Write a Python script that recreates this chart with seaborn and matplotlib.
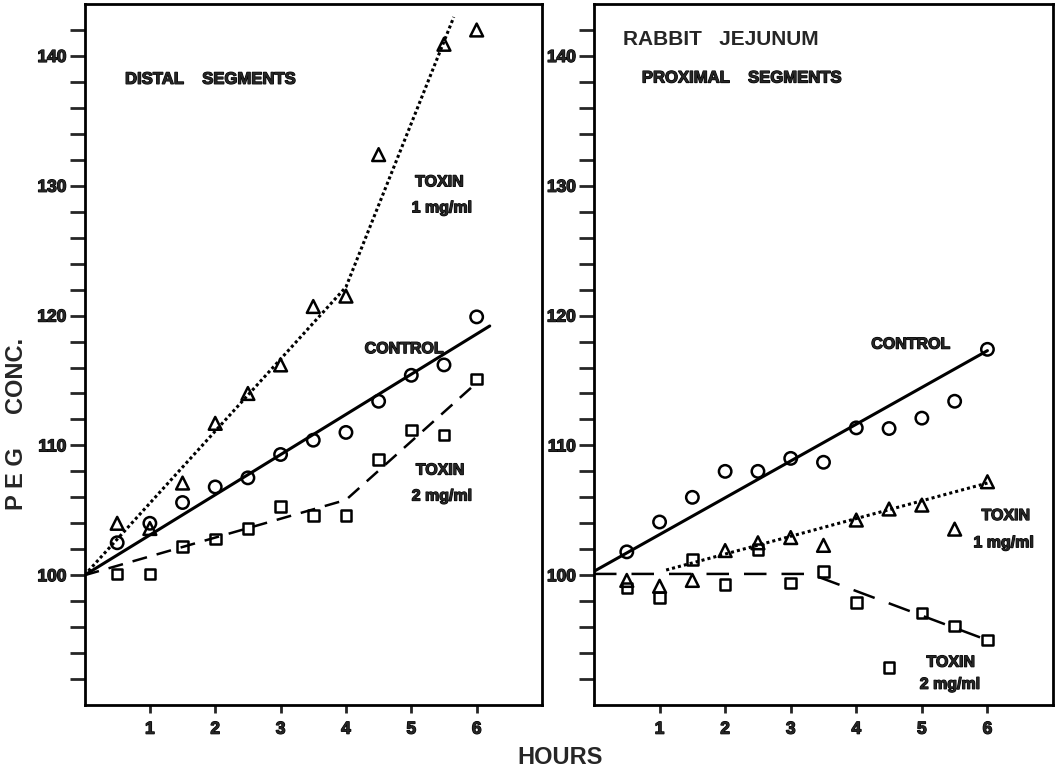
import numpy as np
import matplotlib
matplotlib.use('Agg')
import matplotlib.pyplot as plt
import matplotlib.patheffects as pe
import seaborn as sns

# Time points (hours)
hours = [0.5, 1, 1.5, 2, 2.5, 3, 3.5, 4, 4.5, 5, 5.5, 6]
hours_no5 = [0.5, 1, 1.5, 2, 2.5, 3, 3.5, 4, 4.5, 5.5, 6]

# Distal segments (PEG conc.)
distal_control = [102.5, 104.0, 105.6, 106.8, 107.5, 109.3, 110.4, 111.0, 113.4, 115.4, 116.2, 119.9]
distal_tox1 = [104.0, 103.6, 107.1, 111.7, 114.0, 116.2, 120.7, 121.5, 132.4, 140.9, 142.0]
distal_tox2 = [100.1, 100.1, 102.2, 102.8, 103.6, 105.3, 104.6, 104.6, 108.9, 111.2, 110.8, 115.1]

# Proximal segments (PEG conc.)
prox_control = [101.8, 104.1, 106.0, 108.0, 108.0, 109.0, 108.7, 111.35, 111.3, 112.1, 113.4, 117.4]
prox_tox1 = [99.6, 99.15, 99.6, 101.9, 102.5, 102.9, 102.3, 104.25, 105.1, 105.4, 103.55, 107.2]
prox_tox2 = [99.0, 98.3, 101.2, 99.3, 102.0, 99.4, 100.3, 97.9, 92.9, 97.1, 96.1, 95.0]

# Hand drawn fitted lines (knot points)
distal_control_fit_x = [0, 6.2]
distal_control_fit_y = [100, 119.2]
distal_tox1_fit_x = [0, 4, 5.65]
distal_tox1_fit_y = [100, 122.2, 143.0]
distal_tox2_fit_x = [0, 4, 5.95]
distal_tox2_fit_y = [100, 105.8, 114.6]

prox_control_fit_x = [0, 6]
prox_control_fit_y = [100.3, 117.3]
prox_tox1_fit_x = [1.1, 6]
prox_tox1_fit_y = [100.4, 107.1]
prox_tox2_fit_x = [0, 3.3, 6]
prox_tox2_fit_y = [100.1, 100.1, 95.0]

sns.set_style('ticks')
plt.rcParams['font.family'] = ['Liberation Sans', 'DejaVu Sans']

# heavier lettering, like the stencilled original
heavy = [pe.withStroke(linewidth=0.9, foreground='black')]

fig = plt.figure(figsize=(10.63, 7.74), dpi=100)
ax1 = fig.add_axes([0.0795, 0.0891, 0.4304, 0.9057])
ax2 = fig.add_axes([0.5588, 0.0891, 0.4318, 0.9057])


def style_axis(ax):
    ax.set_xlim(0, 7)
    ax.set_ylim(90, 144)
    ax.set_xticks([1, 2, 3, 4, 5, 6])
    ax.set_yticks([100, 110, 120, 130, 140])
    ax.set_yticks([y for y in np.arange(92, 144, 2) if y % 10 != 0], minor=True)
    ax.tick_params(axis='y', which='both', direction='out', length=11, width=2, pad=2,
                   labelsize=12.5)
    ax.tick_params(axis='x', direction='out', length=6, width=2, pad=6, labelsize=12.5)
    for lab in ax.get_xticklabels() + ax.get_yticklabels():
        lab.set_fontweight('bold')
        lab.set_path_effects(heavy)
    for sp in ax.spines.values():
        sp.set_linewidth(2)
        sp.set_color('black')
    ax.set_xlabel('')
    ax.set_ylabel('')


def points(ax, x, y, marker, size):
    sns.scatterplot(x=x, y=y, ax=ax, marker=marker, s=size, facecolor='none',
                    edgecolor='black', linewidth=1.8, zorder=3)


def fit(ax, x, y, ls, lw=2):
    sns.lineplot(x=x, y=y, ax=ax, color='black', linestyle=ls, linewidth=lw, sort=False)


# Left panel: distal segments
fit(ax1, distal_control_fit_x, distal_control_fit_y, '-', 2.2)
fit(ax1, distal_tox1_fit_x, distal_tox1_fit_y, (0, (1, 0.9)), 2.2)
fit(ax1, distal_tox2_fit_x, distal_tox2_fit_y, (0, (6, 4)), 1.8)
points(ax1, hours, distal_control, 'o', 80)
points(ax1, hours_no5, distal_tox1, '^', 85)
points(ax1, hours, distal_tox2, 's', 58)
style_axis(ax1)

bold = dict(fontsize=11.5, fontweight='bold', ha='center', va='center', path_effects=heavy)
ax1.text(0.62, 138.2, 'DISTAL    SEGMENTS', fontsize=12, fontweight='bold', ha='left',
         va='center', path_effects=heavy)
ax1.text(5.43, 130.3, 'TOXIN', **bold)
ax1.text(5.47, 128.3, '1 mg/ml', **bold)
ax1.text(4.89, 117.45, 'CONTROL', **bold)
ax1.text(5.44, 108.1, 'TOXIN', **bold)
ax1.text(5.47, 106.1, '2 mg/ml', **bold)

# Right panel: proximal segments
fit(ax2, prox_control_fit_x, prox_control_fit_y, '-', 2.2)
fit(ax2, prox_tox1_fit_x, prox_tox1_fit_y, (0, (1, 1.0)), 2.2)
fit(ax2, prox_tox2_fit_x, prox_tox2_fit_y, (0, (9, 6)), 1.8)
points(ax2, hours, prox_control, 'o', 80)
points(ax2, hours, prox_tox1, '^', 85)
points(ax2, hours, prox_tox2, 's', 58)
style_axis(ax2)

ax2.text(0.44, 141.3, 'RABBIT   JEJUNUM', fontsize=15, fontweight='bold', ha='left', va='center')
ax2.text(0.73, 138.3, 'PROXIMAL    SEGMENTS', fontsize=12, fontweight='bold', ha='left',
         va='center', path_effects=heavy)
ax2.text(4.83, 117.8, 'CONTROL', **bold)
ax2.text(6.28, 104.6, 'TOXIN', **bold)
ax2.text(6.25, 102.5, '1 mg/ml', **bold)
ax2.text(5.44, 93.3, 'TOXIN', **bold)
ax2.text(5.43, 91.6, '2 mg/ml', **bold)

fig.text(17 / 1063, 1 - 424 / 774, 'P E G     CONC.', rotation=90, ha='center', va='center',
         fontsize=17, fontweight='bold')
fig.text(560 / 1063, 1 - 758 / 774, 'HOURS', ha='center', va='center', fontsize=17,
         fontweight='bold')

fig.savefig('out.png', dpi=100)
